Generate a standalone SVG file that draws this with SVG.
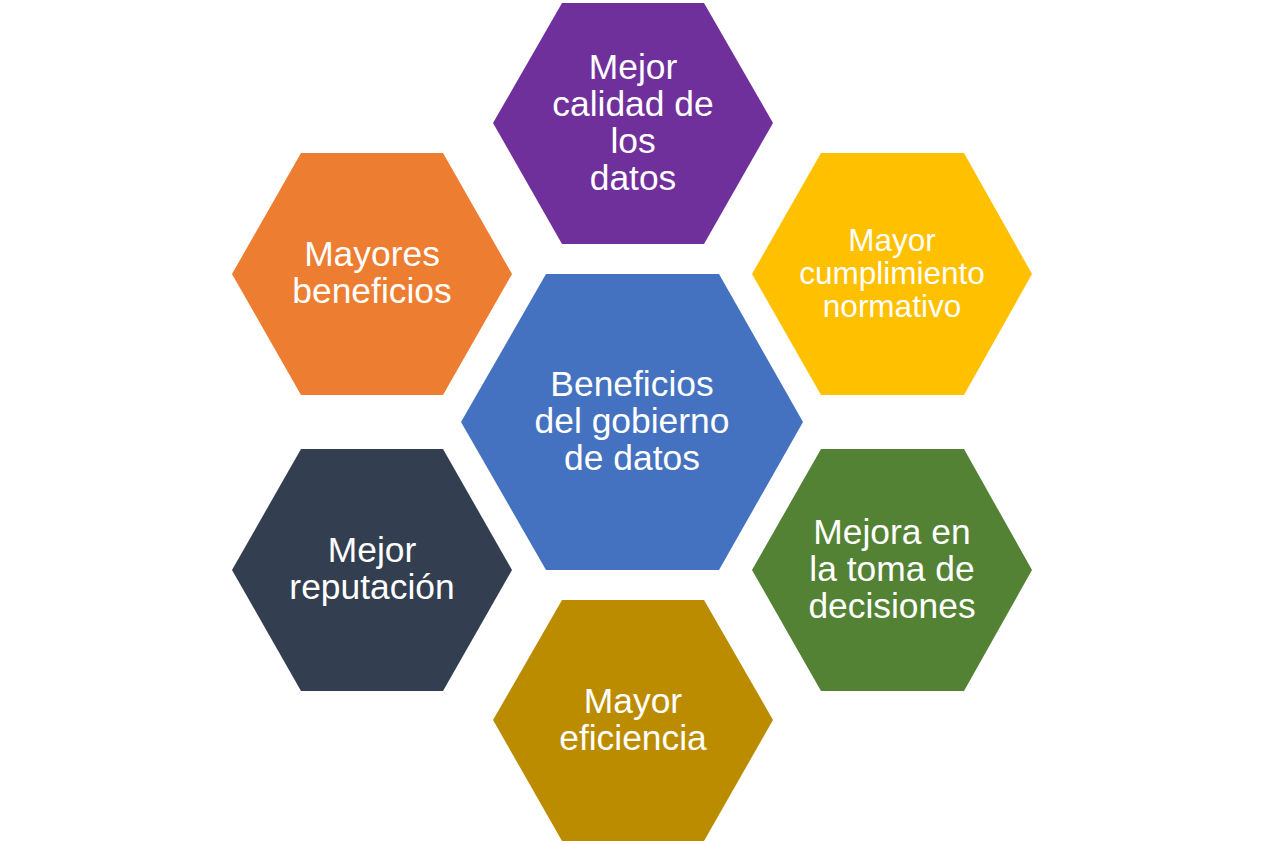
<svg xmlns="http://www.w3.org/2000/svg" width="1264" height="844" viewBox="0 0 1264 844">
<style>
text{font-family:"Liberation Sans",Arial,sans-serif;fill:#fff;text-anchor:middle}
.a{font-size:35.4px}
.c{font-size:31.5px}
</style>
<rect width="1264" height="844" fill="#fff"/>
<g id="center"><polygon points="461,422 546,274 719,274 803,422 719,570 546,570" fill="#4472c0"/>
<text class="a" x="632" y="396">Beneficios</text><text class="a" x="632" y="433">del gobierno</text><text class="a" x="632" y="470">de datos</text></g>
<g id="calidad"><polygon points="493,123 562,3 704,3 773,123 704,244 562,244" fill="#70309c"/>
<text class="a" x="633" y="79">Mejor</text><text class="a" x="633" y="116">calidad de</text><text class="a" x="633" y="153">los</text><text class="a" x="633" y="190">datos</text></g>
<g id="cumplimiento"><polygon points="752,274 821,153 964,153 1032,274 964,395 821,395" fill="#ffc000"/>
<text class="c" x="892" y="251">Mayor</text><text class="c" x="892" y="284">cumplimiento</text><text class="c" x="892" y="317">normativo</text></g>
<g id="decisiones"><polygon points="752,570 821,449 964,449 1032,570 964,691 821,691" fill="#548235"/>
<text class="a" x="892" y="544">Mejora en</text><text class="a" x="892" y="581">la toma de</text><text class="a" x="892" y="618">decisiones</text></g>
<g id="eficiencia"><polygon points="493,720 562,600 704,600 773,720 704,841 562,841" fill="#bc8c00"/>
<text class="a" x="633" y="713">Mayor</text><text class="a" x="633" y="750">eficiencia</text></g>
<g id="reputacion"><polygon points="232,570 301,449 443,449 512,570 443,691 301,691" fill="#333f50"/>
<text class="a" x="372" y="562">Mejor</text><text class="a" x="372" y="599">reputación</text></g>
<g id="beneficios"><polygon points="232,274 301,153 443,153 512,274 443,395 301,395" fill="#ed7d31"/>
<text class="a" x="372" y="266">Mayores</text><text class="a" x="372" y="303">beneficios</text></g>
<g id="connectors"/>
</svg>
